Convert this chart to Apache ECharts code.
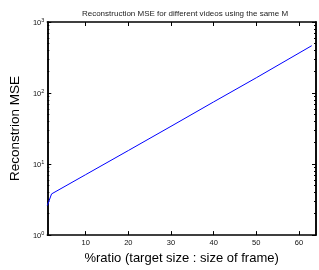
<!DOCTYPE html>
<html>
<head>
<meta charset="utf-8">
<script src="https://cdn.jsdelivr.net/npm/echarts@6/dist/echarts.min.js"></script>
<style>
  html, body { margin: 0; padding: 0; background: #fff; }
  #main { width: 319px; height: 270px; }
</style>
</head>
<body>
<div id="main"></div>
<script>
// data
const ratio = [1, 2, 10, 20, 30, 40, 50, 63];
const mse = [2.6, 3.8, 7.1, 15.5, 34, 75, 164, 464];
const xTicks = [10, 20, 30, 40, 50, 60];
const yMajor = [1, 10, 100, 1000];
const yMinor = [2, 3, 4, 5, 6, 7, 8, 9, 20, 30, 40, 50, 60, 70, 80, 90, 200, 300, 400, 500, 600, 700, 800, 900];

let myChart = echarts.init(document.getElementById("main"));

const font = "'Liberation Sans', Arial, Helvetica, sans-serif";
const axisLine = { show: true, lineStyle: { color: "#000", width: 1.5 } };

// a log y axis; major one has labels, minor one just short ticks
function yAxisOf(pos, ticks, len, labels) {
  return {
    type: "log",
    logBase: 10,
    position: pos,
    min: 1,
    max: 1000,
    axisLine: axisLine,
    splitLine: { show: false },
    axisTick: { show: true, inside: true, length: len, customValues: ticks, lineStyle: { color: "#000", width: 1 } },
    axisLabel: {
      show: labels,
      customValues: ticks,
      margin: 3,
      fontFamily: font,
      color: "#111",
      formatter: function (v) {
        return "{b|10}{s|" + Math.round(Math.log10(v)) + "}";
      },
      rich: {
        b: { fontSize: 7.5, fontFamily: font, color: "#111", lineHeight: 10, verticalAlign: "bottom" },
        s: { fontSize: 5.5, fontFamily: font, color: "#111", lineHeight: 10, verticalAlign: "top" },
      },
    },
  };
}

function xAxisOf(pos, labels) {
  return {
    type: "value",
    position: pos,
    min: 1,
    max: 64,
    axisLine: axisLine,
    splitLine: { show: false },
    axisTick: { show: true, inside: true, length: 4, customValues: xTicks, lineStyle: { color: "#000", width: 1 } },
    axisLabel: { show: labels, customValues: xTicks, margin: 4, fontSize: 7.5, fontFamily: font, color: "#111" },
  };
}

let bottomX = xAxisOf("bottom", true);
bottomX.name = "%ratio (target size : size of frame)";
bottomX.nameLocation = "middle";
bottomX.nameGap = 15;
bottomX.nameTextStyle = { fontSize: 13, fontFamily: font, color: "#000" };

let leftY = yAxisOf("left", yMajor, 4, true);
leftY.name = "Reconstrion MSE";
leftY.nameLocation = "middle";
leftY.nameGap = 19;
leftY.nameTextStyle = { fontSize: 13.5, fontFamily: font, color: "#000" };

var option = {
  animation: false,
  title: {
    text: "Reconstruction MSE for different videos using the same M",
    left: 180,
    top: 5,
    textAlign: "center",
    textStyle: { fontSize: 8, fontWeight: "normal", fontFamily: font, color: "#222" },
  },
  grid: { left: 42, right: 3, top: 22, bottom: 32 },
  xAxis: [bottomX, xAxisOf("top", false)],
  yAxis: [
    leftY,
    yAxisOf("left", yMinor, 2, false),
    yAxisOf("right", yMajor, 4, false),
    yAxisOf("right", yMinor, 2, false),
  ],
  series: [
    {
      type: "line",
      xAxisIndex: 0,
      yAxisIndex: 0,
      data: ratio.map((r, i) => [r, mse[i]]),
      showSymbol: false,
      lineStyle: { color: "#0000ff", width: 1 },
    },
  ],
};

myChart.setOption(option);
</script>
</body>
</html>
